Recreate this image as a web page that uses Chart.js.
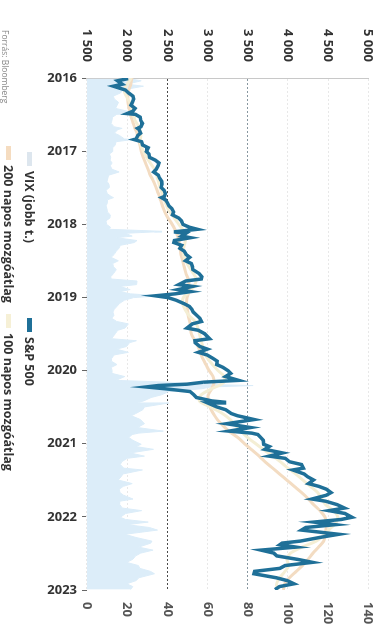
<!DOCTYPE html>
<html lang="hu">
<head>
<meta charset="utf-8">
<title>S&amp;P 500 és VIX</title>
<script src="https://cdn.jsdelivr.net/npm/chart.js@4.4.1/dist/chart.umd.min.js"></script>
<style>
    html, body { margin: 0; padding: 0; background: #fff; }
    body { width: 392px; height: 627px; overflow: hidden; position: relative; font-family: 'Open Sans', sans-serif; }
    /* az eredeti ábra 90 fokkal elforgatva szerepel */
    #rot { position: absolute; left: 0; top: 0; width: 627px; height: 392px; transform-origin: 0 0; transform: translate(392px, 0) rotate(90deg); }
    #chart { position: absolute; left: 0; top: 0; }
    .leg { position: absolute; font-weight: 700; font-size: 12.5px; color: #333; white-space: nowrap; line-height: 14px; }
    .leg i { display: inline-block; width: 14px; height: 5px; margin-right: 5px; vertical-align: middle; position: relative; top: -1px; }
    #src { position: absolute; left: 30px; top: 381px; font-size: 8.5px; color: #888; white-space: nowrap; }
</style>
</head>
<body>
<div id="rot">
    <canvas id="chart" width="627" height="392"></canvas>
    <div class="leg" style="left:152px; top:356px;"><i style="background:#dde6ee"></i>VIX (jobb t.)</div>
    <div class="leg" style="left:318px; top:356px;"><i style="background:#1f7098"></i>S&amp;P 500</div>
    <div class="leg" style="left:146px; top:377px;"><i style="background:#f5dcc0"></i>200 napos mozgóátlag</div>
    <div class="leg" style="left:314px; top:377px;"><i style="background:#f6f0d6"></i>100 napos mozgóátlag</div>
    <div id="src">Forrás: Bloomberg</div>
</div>
<script>
// Adatok: S&P 500 (bal tengely) és VIX (jobb tengely), kb. kéthetes pontok
const obsDates = [
    // 2016
    '2016-01-04', '2016-01-15', '2016-02-01', '2016-02-11', '2016-03-01', '2016-03-15', '2016-04-01', '2016-04-15', '2016-05-02',
    '2016-05-16', '2016-06-01', '2016-06-15', '2016-06-27', '2016-07-01', '2016-07-15', '2016-08-01', '2016-08-15', '2016-09-01',
    '2016-09-09', '2016-09-15', '2016-10-03', '2016-10-14', '2016-11-01', '2016-11-04', '2016-11-15', '2016-12-01', '2016-12-15',
    // 2017
    '2017-01-03', '2017-01-15', '2017-02-01', '2017-02-15', '2017-03-01', '2017-03-15', '2017-04-01', '2017-04-15', '2017-05-01',
    '2017-05-15', '2017-06-01', '2017-06-15', '2017-07-01', '2017-07-15', '2017-08-01', '2017-08-15', '2017-08-21', '2017-09-01',
    '2017-09-15', '2017-10-01', '2017-10-15', '2017-11-01', '2017-11-15', '2017-12-01', '2017-12-15',
    // 2018
    '2018-01-02', '2018-01-16', '2018-01-26', '2018-02-05', '2018-02-08', '2018-02-15', '2018-03-01', '2018-03-09', '2018-03-23',
    '2018-04-02', '2018-04-16', '2018-05-01', '2018-05-15', '2018-06-01', '2018-06-15', '2018-07-02', '2018-07-16', '2018-08-01',
    '2018-08-15', '2018-09-04', '2018-09-20', '2018-10-01', '2018-10-11', '2018-10-29', '2018-11-07', '2018-11-23', '2018-12-03',
    '2018-12-14', '2018-12-24',
    // 2019
    '2019-01-02', '2019-01-15', '2019-02-01', '2019-02-15', '2019-03-01', '2019-03-15', '2019-04-01', '2019-04-15', '2019-05-01',
    '2019-05-13', '2019-06-03', '2019-06-14', '2019-07-01', '2019-07-26', '2019-08-05', '2019-08-15', '2019-09-03', '2019-09-16',
    '2019-10-02', '2019-10-15', '2019-11-01', '2019-11-15', '2019-12-02', '2019-12-16',
    // 2020
    '2020-01-02', '2020-01-15', '2020-01-31', '2020-02-19', '2020-02-28', '2020-03-09', '2020-03-16', '2020-03-23', '2020-04-01',
    '2020-04-15', '2020-05-01', '2020-05-15', '2020-06-01', '2020-06-08', '2020-06-11', '2020-07-01', '2020-07-15', '2020-08-03',
    '2020-08-14', '2020-09-02', '2020-09-23', '2020-10-12', '2020-10-30', '2020-11-09', '2020-11-16', '2020-12-01', '2020-12-15',
    // 2021
    '2021-01-04', '2021-01-15', '2021-01-29', '2021-02-16', '2021-03-04', '2021-03-15', '2021-04-01', '2021-04-15', '2021-05-03',
    '2021-05-12', '2021-06-01', '2021-06-15', '2021-07-01', '2021-07-19', '2021-08-02', '2021-08-16', '2021-09-02', '2021-09-15',
    '2021-10-04', '2021-10-15', '2021-11-01', '2021-11-18', '2021-12-01', '2021-12-15',
    // 2022
    '2022-01-03', '2022-01-14', '2022-01-27', '2022-02-09', '2022-02-23', '2022-03-08', '2022-03-29', '2022-04-14', '2022-05-02',
    '2022-05-12', '2022-05-20', '2022-06-01', '2022-06-16', '2022-07-01', '2022-07-15', '2022-08-01', '2022-08-16', '2022-09-01',
    '2022-09-15', '2022-09-30', '2022-10-12', '2022-11-01', '2022-11-15', '2022-12-01', '2022-12-15', '2022-12-30'
];

const sp500 = [
    // 2016
    2012, 1880, 1940, 1829, 1978, 2015, 2073, 2081, 2065, 2047, 2099, 2071, 2000, 2102, 2161, 2170, 2190, 2170,
    2128, 2147, 2168, 2133, 2111, 2085, 2180, 2191, 2262,
    // 2017
    2239, 2270, 2279, 2349, 2395, 2385, 2362, 2329, 2388, 2402, 2430, 2432, 2423, 2459, 2476, 2464, 2428, 2476,
    2500, 2519, 2557, 2579, 2564, 2642, 2675,
    // 2018
    2695, 2776, 2873, 2649, 2581, 2732, 2678, 2786, 2588, 2582, 2678, 2655, 2711, 2734, 2779, 2726, 2798, 2813,
    2818, 2896, 2930, 2924, 2728, 2641, 2813, 2633, 2790, 2600, 2351,
    // 2019
    2510, 2610, 2707, 2775, 2804, 2822, 2868, 2905, 2924, 2812, 2744, 2887, 2964, 3025, 2844, 2847, 2906, 2998,
    2887, 2995, 3067, 3120, 3114, 3191,
    // 2020
    3258, 3289, 3225, 3386, 2954, 2747, 2386, 2237, 2470, 2783, 2830, 2863, 3055, 3232, 3002, 3115, 3227, 3295,
    3373, 3580, 3237, 3534, 3270, 3550, 3627, 3662, 3695,
    // 2021
    3700, 3768, 3714, 3932, 3768, 3968, 4020, 4170, 4192, 4063, 4202, 4246, 4320, 4258, 4387, 4479, 4537, 4480,
    4300, 4471, 4614, 4704, 4513, 4709,
    // 2022
    4797, 4663, 4326, 4587, 4225, 4171, 4632, 4393, 4155, 3930, 3901, 4101, 3667, 3825, 3863, 4118, 4305, 3966,
    3901, 3586, 3577, 3856, 3992, 4076, 3895, 3840
];

const vix = [
    // 2016
    20.7, 27.0, 19.9, 28.1, 17.7, 16.8, 13.1, 13.6, 15.7, 15.0, 14.2, 20.1, 23.9, 14.8, 12.7, 12.4, 12.0, 13.5,
    17.5, 15.4, 13.6, 16.1, 18.6, 22.5, 14.4, 14.1, 12.8,
    // 2017
    12.8, 11.2, 11.8, 11.5, 12.5, 11.6, 12.4, 16.0, 10.8, 10.4, 10.0, 10.9, 11.2, 9.5, 10.1, 12.0, 13.2, 10.1,
    10.2, 9.5, 9.9, 10.2, 11.6, 11.4, 9.4,
    // 2018
    9.8, 11.7, 11.1, 37.3, 33.5, 19.1, 22.5, 14.6, 24.9, 23.6, 16.6, 15.9, 14.6, 13.5, 12.0, 15.6, 12.8, 13.2,
    14.6, 13.2, 11.8, 12.0, 24.9, 24.7, 16.4, 21.5, 16.4, 21.6, 36.1,
    // 2019
    23.2, 18.6, 16.1, 14.9, 13.6, 12.9, 13.4, 12.3, 14.8, 20.6, 18.9, 15.3, 14.1, 12.2, 24.6, 21.2, 19.7, 14.7,
    20.6, 13.5, 12.3, 12.1, 14.9, 12.1,
    // 2020
    12.5, 12.4, 18.8, 14.4, 40.1, 54.5, 82.7, 61.6, 57.1, 40.8, 37.2, 31.9, 28.2, 25.8, 40.8, 28.6, 27.8, 24.3,
    22.1, 26.6, 28.6, 25.1, 38.0, 25.8, 22.5, 20.8, 22.9,
    // 2021
    27.0, 24.3, 33.1, 21.5, 28.6, 20.0, 17.3, 16.6, 18.3, 27.6, 17.9, 17.0, 15.5, 22.5, 18.0, 16.1, 16.4, 18.2,
    22.9, 16.3, 16.3, 17.6, 27.2, 19.3,
    // 2022
    16.6, 19.2, 30.5, 20.0, 31.0, 35.1, 18.9, 24.4, 32.3, 31.8, 29.4, 25.7, 32.9, 26.7, 24.2, 22.8, 19.7, 25.6,
    26.3, 31.6, 33.6, 25.8, 24.5, 19.8, 22.8, 21.7
];

// mozgóátlagok havi értékei, 2016 januártól 2023 januárig
const maStart = 2016;
const ma200 = [
    2060, 2045, 2020, 2010, 2010, 2025, 2040, 2065, 2090, 2120, 2140, 2160,
    2175, 2200, 2230, 2260, 2290, 2330, 2360, 2390, 2415, 2440, 2470, 2510,
    2560, 2600, 2630, 2650, 2660, 2670, 2690, 2710, 2730, 2760, 2770, 2770,
    2745, 2740, 2750, 2760, 2780, 2790, 2800, 2840, 2880, 2910, 2940, 2980,
    3020, 3070, 3080, 3050, 3010, 3010, 3030, 3070, 3120, 3190, 3270, 3380,
    3460, 3550, 3640, 3720, 3810, 3900, 3990, 4080, 4170, 4250, 4320, 4400,
    4460, 4480, 4475, 4465, 4445, 4380, 4310, 4250, 4180, 4100, 4020, 3960,
    3945
];
const ma100 = [
    2050, 2000, 1960, 1990, 2030, 2060, 2080, 2100, 2145, 2170, 2165, 2170,
    2200, 2240, 2290, 2340, 2370, 2390, 2410, 2440, 2460, 2490, 2530, 2590,
    2640, 2700, 2730, 2720, 2700, 2700, 2730, 2770, 2820, 2860, 2840, 2780,
    2700, 2690, 2720, 2770, 2850, 2880, 2900, 2920, 2940, 2960, 3000, 3060,
    3130, 3210, 3200, 3050, 2920, 2900, 3040, 3180, 3280, 3350, 3420, 3500,
    3600, 3700, 3810, 3910, 4000, 4100, 4190, 4280, 4370, 4420, 4470, 4570,
    4620, 4600, 4520, 4450, 4350, 4170, 4030, 3990, 4010, 3960, 3900, 3860,
    3870
];

const yearTicks = [2016, 2017, 2018, 2019, 2020, 2021, 2022, 2023];

// dátum -> tört év a lineáris x tengelyhez
function toYear(s) {
    const d = new Date(s + 'T00:00:00Z');
    const y = d.getUTCFullYear();
    const start = Date.UTC(y, 0, 1);
    const end = Date.UTC(y + 1, 0, 1);
    return y + (d.getTime() - start) / (end - start);
}

const obsX = obsDates.map(toYear);
const spPoints = sp500.map((v, i) => ({ x: obsX[i], y: v }));
const vixPoints = vix.map((v, i) => ({ x: obsX[i], y: v }));
const ma200Points = ma200.map((v, i) => ({ x: maStart + i / 12, y: v }));
const ma100Points = ma100.map((v, i) => ({ x: maStart + i / 12, y: v }));

function fmtThousands(v) {
    const s = String(Math.round(v));
    return s.length > 3 ? s.slice(0, -3) + ' ' + s.slice(-3) : s;
}

const labelFont = { family: "'Open Sans', sans-serif", weight: 'bold', size: 13 };

function gridColor(c) {
    const v = c.tick && c.tick.value;
    if (v === 2500) return '#4a4a4a';
    if (v === 3500) return '#8797a0';
    return '#e8e8e8';
}

new Chart(document.getElementById('chart'), {
    type: 'line',
    data: {
        datasets: [
            {
                label: 'S&P 500',
                data: spPoints,
                yAxisID: 'y',
                borderColor: '#1f7098',
                borderWidth: 3.5,
                pointRadius: 0,
                tension: 0,
                fill: false
            },
            {
                label: '100 napos mozgóátlag',
                data: ma100Points,
                yAxisID: 'y',
                borderColor: '#f4eed4',
                borderWidth: 3,
                pointRadius: 0,
                tension: 0.3,
                fill: false
            },
            {
                label: '200 napos mozgóátlag',
                data: ma200Points,
                yAxisID: 'y',
                borderColor: '#f3dcc2',
                borderWidth: 3,
                pointRadius: 0,
                tension: 0.3,
                fill: false
            },
            {
                label: 'VIX (jobb t.)',
                data: vixPoints,
                yAxisID: 'y1',
                borderColor: '#dcedf9',
                backgroundColor: '#dcedf9',
                borderWidth: 1,
                pointRadius: 0,
                tension: 0,
                fill: 'origin'
            }
        ]
    },
    options: {
        responsive: false,
        animation: false,
        layout: { padding: { top: 19, left: 0, right: 0, bottom: 0 } },
        plugins: {
            legend: { display: false },
            tooltip: { enabled: false }
        },
        scales: {
            x: {
                type: 'linear',
                min: yearTicks[0],
                max: yearTicks[yearTicks.length - 1],
                afterFit: s => { s.height = 87; },
                afterBuildTicks: s => { s.ticks = yearTicks.map(v => ({ value: v })); },
                ticks: {
                    minRotation: 90,
                    maxRotation: 90,
                    padding: 5,
                    color: '#333',
                    font: labelFont,
                    callback: v => String(v)
                },
                grid: { drawOnChartArea: false, drawTicks: true, tickLength: 5, tickColor: '#666' },
                border: { display: false }
            },
            y: {
                position: 'left',
                min: 1500,
                max: 5000,
                afterFit: s => { s.width = 78; },
                ticks: {
                    stepSize: 500,
                    padding: 16,
                    color: '#333',
                    font: labelFont,
                    callback: v => fmtThousands(v)
                },
                grid: { color: gridColor, lineWidth: 1, drawTicks: false },
                border: { display: true, color: '#c8c8c8', dash: [2, 2] }
            },
            y1: {
                position: 'right',
                min: 0,
                max: 140,
                afterFit: s => { s.width = 37; },
                ticks: {
                    stepSize: 20,
                    padding: 12,
                    color: '#555',
                    font: labelFont
                },
                grid: { drawOnChartArea: false, drawTicks: false },
                border: { display: false }
            }
        }
    }
});
</script>
</body>
</html>
